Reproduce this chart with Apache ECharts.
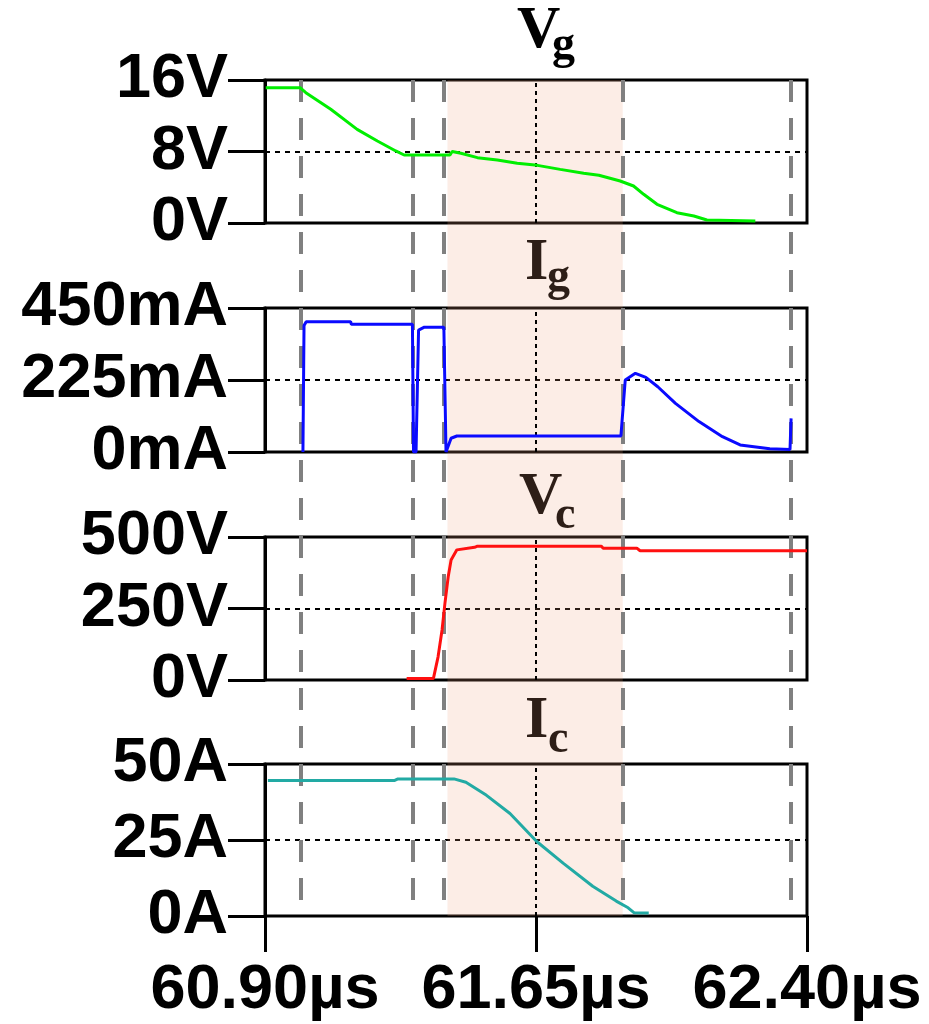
<!DOCTYPE html>
<html><head><meta charset="utf-8">
<script src="https://cdn.jsdelivr.net/npm/echarts@6/dist/echarts.min.js"></script>
<style>html,body{margin:0;padding:0;background:#fff}#c{width:929px;height:1024px}</style>
</head><body><div id="c"></div>
<script>
// ---- data (time in µs) ----
const xTicks = [60.90, 61.65, 62.40];
const vgTicks = [0, 8, 16];
const igTicks = [0, 225, 450];
const vcTicks = [0, 250, 500];
const icTicks = [0, 25, 50];

const vgT = [60.902, 60.997, 61.013, 61.082, 61.155, 61.211, 61.262, 61.285, 61.412, 61.418, 61.442, 61.488, 61.543, 61.598, 61.654, 61.717, 61.782, 61.824, 61.883, 61.920, 61.948, 61.985, 62.040, 62.087, 62.123, 62.257];
const vgV = [15.14, 15.14, 14.58, 12.72, 10.48, 9.17, 8.06, 7.61, 7.61, 8.0, 7.8, 7.31, 7.05, 6.68, 6.45, 6.0, 5.56, 5.34, 4.70, 4.14, 3.21, 2.09, 1.15, 0.78, 0.34, 0.22];

const igT = [61.005, 61.008, 61.014, 61.137, 61.139, 61.308, 61.311, 61.318, 61.325, 61.341, 61.395, 61.401, 61.415, 61.431, 61.885, 61.897, 61.925, 61.954, 61.987, 62.036, 62.101, 62.166, 62.215, 62.297, 62.353, 62.356];
const igV = [0, 395, 407, 407, 399, 399, 0, 0, 381, 390, 390, 0, 43, 50, 50, 225, 246, 233, 204, 152, 95, 48, 22, 10, 8, 105];

const vcT = [61.292, 61.366, 61.379, 61.390, 61.398, 61.407, 61.415, 61.431, 61.480, 61.488, 61.831, 61.836, 61.929, 61.938, 62.40];
const vcV = [5, 5, 81, 175, 268, 361, 420, 455, 464, 468, 468, 461, 461, 452, 452];

const icT = [60.908, 61.259, 61.268, 61.423, 61.456, 61.513, 61.578, 61.652, 61.725, 61.807, 61.872, 61.905, 61.921, 61.962];
const icV = [44.6, 44.6, 45.1, 45.1, 44.0, 39.7, 33.7, 24.5, 17.4, 9.8, 4.9, 2.7, 1.1, 1.0];

const markerT = [61.00, 61.31, 61.395, 61.89, 62.355];
const shadeT = [61.405, 61.89];

// ---- layout ----
const LEFT = 265, WIDTH = 542;
const panels = [
  {top: 80, h: 143, ticks: vgTicks, unit: 'V', color: '#00ee00', t: vgT, v: vgV},
  {top: 308, h: 144, ticks: igTicks, unit: 'mA', color: '#0a0aff', t: igT, v: igV},
  {top: 537, h: 143, ticks: vcTicks, unit: 'V', color: '#ff1010', t: vcT, v: vcV},
  {top: 764, h: 152, ticks: icTicks, unit: 'A', color: '#22aaa4', t: icT, v: icV}
];
const labelFont = {fontFamily: 'Liberation Sans, Arial, sans-serif', fontWeight: 'bold', fontSize: 63, color: '#000'};

const grid = [], xAxis = [], yAxis = [], series = [];
panels.forEach((p, i) => {
  const last = i === panels.length - 1;
  grid.push({left: LEFT, width: WIDTH, top: p.top, height: p.h, show: true, borderColor: '#000', borderWidth: 3, backgroundColor: 'transparent'});
  xAxis.push({
    type: 'value', gridIndex: i, min: xTicks[0], max: xTicks[2], interval: 0.15,
    axisLine: {show: false},
    axisTick: {show: last, customValues: xTicks, length: 36, lineStyle: {color: '#000', width: 3}},
    axisLabel: {show: last, customValues: xTicks, margin: 43, ...labelFont,
      formatter: v => v.toFixed(2) + 'µs'},
    splitLine: {show: false}
  });
  yAxis.push({
    type: 'value', gridIndex: i, min: p.ticks[0], max: p.ticks[2], interval: p.ticks[1],
    axisLine: {show: true, lineStyle: {color: '#000', width: 3}},
    axisTick: {show: true, length: 37, lineStyle: {color: '#000', width: 3}},
    axisLabel: {margin: 37, ...labelFont, formatter: v => v + p.unit},
    splitLine: {show: true, lineStyle: {color: '#000', width: 2, type: [5, 5]}}
  });
  series.push({
    type: 'line', xAxisIndex: i, yAxisIndex: i, z: 5,
    data: p.t.map((t, k) => [t, p.v[k]]),
    showSymbol: false, symbol: 'none',
    lineStyle: {color: p.color, width: 3},
    markLine: {silent: true, symbol: 'none', label: {show: false},
      lineStyle: {color: '#000', width: 2, type: [4, 4]},
      data: [{xAxis: xTicks[1]}]}
  });
});

// overlay grid for markers and shading
grid.push({left: LEFT, width: WIDTH, top: 80, height: 836, show: false});
xAxis.push({type: 'value', gridIndex: 4, min: xTicks[0], max: xTicks[2], show: false});
yAxis.push({type: 'value', gridIndex: 4, min: 0, max: 1, show: false});
series.push({
  type: 'line', xAxisIndex: 4, yAxisIndex: 4, z: 3, data: [],
  markLine: {silent: true, symbol: 'none', label: {show: false},
    lineStyle: {color: '#808080', width: 4, type: [22, 16]},
    data: markerT.map(t => [{coord: [t, 1]}, {coord: [t, 0.015]}])}
});
series.push({
  type: 'line', xAxisIndex: 4, yAxisIndex: 4, z: 20, data: [],
  markArea: {silent: true, itemStyle: {color: 'rgba(240,160,120,0.19)'},
    data: [[{xAxis: shadeT[0]}, {xAxis: shadeT[1]}]]}
});

// titles
const serif = 'bold {S}px "Liberation Serif", "Times New Roman", serif';
function txt(s, x, base, size) {
  return {type: 'text', z: 1, x: x, y: base - 0.8375 * size,
    style: {text: s, font: serif.replace('{S}', size), fill: '#000',
      align: 'left', verticalAlign: 'top', textAlign: 'left', textVerticalAlign: 'top'}};
}
const graphic = [
  txt('V', 517, 52, 60), txt('g', 552, 62, 46),
  txt('I', 525, 284, 60), txt('g', 547, 294, 46),
  txt('V', 519, 518, 60), txt('c', 555, 532, 46),
  txt('I', 525, 742, 60), txt('c', 548, 756, 46)
];

const chart = echarts.init(document.getElementById('c'));
chart.setOption({animation: false, backgroundColor: '#fff', grid, xAxis, yAxis, series, graphic});
</script></body></html>
